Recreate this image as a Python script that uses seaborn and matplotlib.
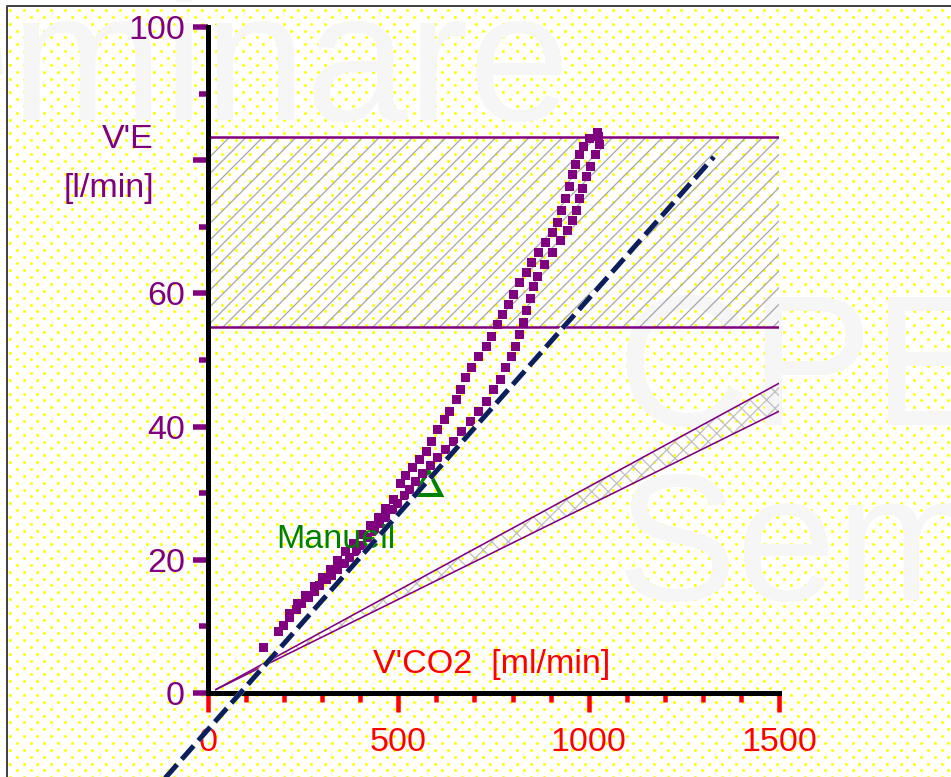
import numpy as np
import pandas as pd
import matplotlib
matplotlib.use("Agg")
import matplotlib.pyplot as plt
from matplotlib.patches import Rectangle
import seaborn as sns

# ---- measured samples: V'CO2 [ml/min] vs V'E [l/min] ----
ramp_vco2 = [144.5, 183.9, 199.6, 215.4, 231.2, 246.9, 262.7, 278.5, 294.2, 310.0,
             325.7, 341.5, 357.3, 373.0, 388.8, 404.5, 420.3, 436.1, 451.8, 467.6,
             483.4, 499.1, 514.9, 530.6, 546.4, 562.2, 583.2, 604.2, 625.2, 646.2,
             667.2, 688.3, 709.3, 730.3, 751.3, 767.1, 782.8, 796.0, 809.1, 819.6,
             830.1, 838.0, 845.9, 853.8, 864.3, 882.7, 903.7, 924.7, 943.1, 958.8,
             969.3, 977.2, 985.1, 995.6, 1006.1, 1019.2, 1029.7, 1027.1, 1021.9]
ramp_ve = [6.8, 9.2, 10.2, 11.4, 12.5, 13.4, 14.3, 15.2, 16.1, 17.0,
           17.7, 18.6, 19.5, 20.4, 21.3, 22.2, 23.3, 24.3, 25.4, 26.4,
           27.5, 28.5, 29.6, 30.6, 31.8, 33.0, 34.2, 35.4, 36.6, 37.8,
           39.2, 40.7, 42.2, 43.7, 45.5, 47.0, 48.8, 50.5, 52.1, 53.8,
           55.7, 57.5, 59.3, 61.0, 62.6, 64.4, 66.2, 68.0, 69.5, 71.0,
           72.5, 74.2, 75.8, 77.5, 79.1, 80.8, 82.3, 83.5, 84.1]

recovery_vco2 = [1003.5, 987.7, 977.2, 966.7, 958.8, 950.9, 940.4, 929.9, 919.4, 906.3,
                 887.9, 869.5, 851.1, 835.4, 819.6, 803.8, 788.1, 774.9, 761.8, 746.0,
                 730.3, 711.9, 693.5, 677.7, 662.0, 651.5, 635.7, 620.0, 604.2, 588.4,
                 572.7, 556.9, 538.5, 520.1, 504.4, 488.6, 467.6, 446.6, 425.6, 404.5,
                 383.5, 362.5, 341.5, 320.5, 299.5, 278.5, 257.4, 236.4, 215.4]
recovery_ve = [83.3, 82.1, 80.8, 79.4, 77.9, 76.1, 74.3, 72.5, 70.7, 69.1,
               67.6, 66.2, 64.7, 63.2, 61.6, 59.9, 58.4, 56.9, 55.4, 53.6,
               52.1, 50.6, 48.9, 47.3, 45.6, 44.0, 42.3, 41.0, 39.6, 37.8,
               36.3, 35.0, 33.8, 32.6, 31.4, 29.0, 27.7, 26.4, 25.1, 23.8,
               22.5, 21.2, 19.9, 18.6, 17.3, 16.0, 14.7, 13.4, 12.0]

# manually set marker
manual_vco2 = [578]
manual_ve = [31.7]

# target V'E range (hatched band)
target_ve = [55.0, 83.5]

# predicted V'E / V'CO2 corridor
corridor_vco2 = [20, 1500]
corridor_upper = [0.5, 46.5]
corridor_lower = [0.5, 42.3]

# fitted slope line
slope_vco2 = [-130, 1329]
slope_ve = [-13.9, 80.5]

# axis ticks
x_major = [0, 500, 1000, 1500]
x_minor = [100, 200, 300, 400, 600, 700, 800, 900, 1100, 1200, 1300, 1400]
y_major = [0, 20, 40, 60, 80, 100]
y_labels = ["0", "20", "40", "60", "", "100"]
y_minor = [10, 30, 50, 70, 90]

# ---- styling ----
W, H, DPI = 951, 777, 100


def pt(px):
    """pixel length -> points"""
    return px * 72.0 / DPI


PURPLE = "#800080"
RED = "#ff0000"
GREEN = "#008000"
NAVY = "#0b1f5c"
YELLOW = "#ffff00"
FONT_PX = 34

sns.set_style("white")
plt.rcParams["font.family"] = ["Liberation Sans", "DejaVu Sans"]
plt.rcParams["hatch.linewidth"] = pt(1.3)

fig = plt.figure(figsize=(W / DPI, H / DPI), dpi=DPI)
fig.patch.set_facecolor("white")

# ---- background panel: dotted screen texture, watermark, frame ----
bg = fig.add_axes([0, 0, 1, 1], zorder=0)
bg.set_xlim(0, W)
bg.set_ylim(H, 0)
bg.axis("off")

fx0, fy0 = 7, 6
dx, dy = 13.7, 6.85
rows = np.arange(fy0 + 4, H + 4, dy)
px_list, py_list = [], []
for i, yy in enumerate(rows):
    start = fx0 + 3 + (dx / 2 if i % 2 else 0)
    xs = np.arange(start, W + 4, dx)
    px_list.append(xs)
    py_list.append(np.full_like(xs, yy))
bg.scatter(np.concatenate(px_list), np.concatenate(py_list), s=pt(3.0) ** 2,
           marker="o", color=YELLOW, linewidths=0, zorder=1)

clip_rect = Rectangle((fx0, fy0), W, H, transform=bg.transData, facecolor="none")
for txt, x, y, size in [("Seminare", -212, 120, 183),
                        ("CPET", 617, 425, 185),
                        ("Seminare", 617, 600, 180)]:
    t = bg.text(x, y, txt, fontsize=pt(size), color="#f6f6f6",
                ha="left", va="baseline", zorder=2)
    t.set_clip_path(clip_rect)

bg.plot([fx0, fx0, W], [H, fy0, fy0], color="#444444", lw=pt(2),
        solid_capstyle="butt", zorder=5)

# ---- main chart ----
ax = fig.add_axes([208 / W, 1 - 693 / H, 571 / W, 666 / H], zorder=1)
ax.set_facecolor("none")
ax.set_xlim(0, 1500)
ax.set_ylim(0, 100)

# target band
ax.axhspan(target_ve[0], target_ve[1], facecolor="none", edgecolor="#a8a8a8",
           hatch="//", linewidth=0, zorder=1)
for v in target_ve:
    ax.axhline(v, color=PURPLE, lw=pt(2.5), zorder=2)

# corridor
poly_x = corridor_vco2 + corridor_vco2[::-1]
poly_y = corridor_upper + corridor_lower[::-1]
ax.fill(poly_x, poly_y, facecolor="none", edgecolor="#c0c0c0", hatch="xx",
        linewidth=0, zorder=1)
sns.lineplot(x=corridor_vco2, y=corridor_upper, color=PURPLE, lw=pt(1.6), ax=ax, zorder=2)
sns.lineplot(x=corridor_vco2, y=corridor_lower, color=PURPLE, lw=pt(1.6), ax=ax, zorder=2)

# manual marker
ax.plot(manual_vco2, manual_ve, marker="^", ms=pt(25), mfc="none", mec=GREEN,
        mew=pt(4), ls="none", zorder=3)

# samples
df = pd.DataFrame({
    "vco2": ramp_vco2 + recovery_vco2,
    "ve": ramp_ve + recovery_ve,
    "phase": ["ramp"] * len(ramp_vco2) + ["recovery"] * len(recovery_vco2),
})
sns.scatterplot(data=df, x="vco2", y="ve", hue="phase",
                palette={"ramp": PURPLE, "recovery": PURPLE}, marker="s",
                s=pt(9) ** 2, linewidth=0, legend=False, ax=ax, zorder=4)

ax.text(0.1203, 0.2177, "Manuell", transform=ax.transAxes, ha="left",
        va="baseline", color=GREEN, fontsize=pt(FONT_PX), zorder=4.5)

# slope line: white underlay + navy dashes
sns.lineplot(x=slope_vco2, y=slope_ve, color="white", lw=pt(5), clip_on=False,
             ax=ax, zorder=5)
sns.lineplot(x=slope_vco2, y=slope_ve, color=NAVY, lw=pt(5), clip_on=False,
             linestyle=(0, (3.6, 1.4)), ax=ax, zorder=6)

# axes, ticks, labels
for side in ["top", "right"]:
    ax.spines[side].set_visible(False)
for side in ["left", "bottom"]:
    ax.spines[side].set_color("black")
    ax.spines[side].set_linewidth(pt(5))

ax.set_xticks(x_major)
ax.set_xticklabels([str(v) for v in x_major])
ax.set_xticks(x_minor, minor=True)
ax.set_yticks(y_major)
ax.set_yticklabels(y_labels)
ax.set_yticks(y_minor, minor=True)

ax.tick_params(axis="x", which="both", bottom=True, direction="out", color=RED,
               width=pt(4.5))
ax.tick_params(axis="x", which="major", length=pt(19), labelcolor=RED,
               labelsize=pt(FONT_PX), pad=pt(15))
ax.tick_params(axis="x", which="minor", length=pt(9))
ax.tick_params(axis="y", which="both", left=True, direction="out", color=PURPLE,
               width=pt(5.5))
ax.tick_params(axis="y", which="major", length=pt(15), labelcolor=PURPLE,
               labelsize=pt(FONT_PX), pad=pt(8))
ax.tick_params(axis="y", which="minor", length=pt(9))
ax.set_xlabel("")
ax.set_ylabel("")

ax.text(-0.0946, 0.818, "V'E", transform=ax.transAxes, ha="right", va="baseline",
        color=PURPLE, fontsize=pt(FONT_PX))
ax.text(-0.0946, 0.745, "[l/min]", transform=ax.transAxes, ha="right", va="baseline",
        color=PURPLE, fontsize=pt(FONT_PX))
ax.text(0.289, 0.030, "V'CO2  [ml/min]", transform=ax.transAxes, ha="left",
        va="baseline", color=RED, fontsize=pt(FONT_PX))

fig.savefig("out.png", dpi=DPI, facecolor="white")
